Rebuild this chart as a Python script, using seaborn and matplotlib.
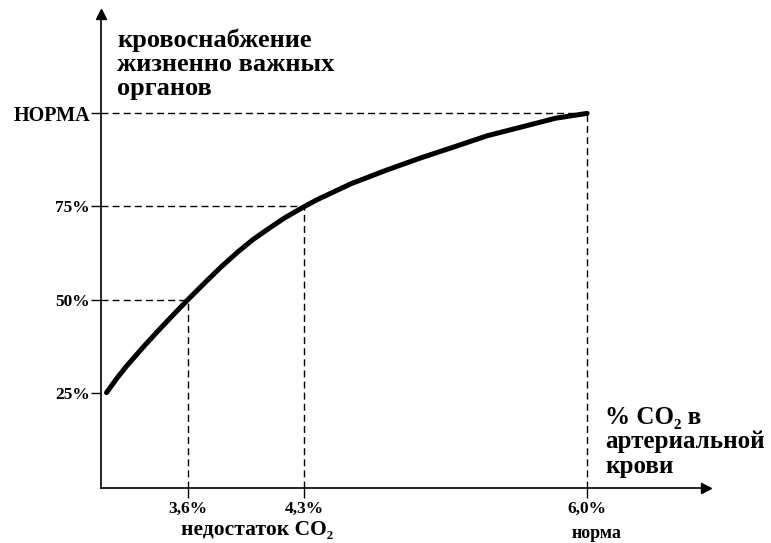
import matplotlib
matplotlib.use("Agg")
import matplotlib.pyplot as plt
import seaborn as sns
import pandas as pd

# curve: % CO2 in arterial blood -> blood supply (% of norm)
co2 = [3.11, 3.175, 3.23, 3.33, 3.42, 3.52, 3.60, 3.71, 3.80, 3.90, 3.99, 4.09,
       4.18, 4.30, 4.38, 4.58, 4.79, 4.99, 5.20, 5.40, 5.61, 5.81, 6.00]
supply = [25.0, 29.0, 32.1, 37.2, 41.6, 46.3, 50.0, 54.9, 58.8, 62.8, 66.1, 69.2,
          71.9, 75.0, 76.9, 81.1, 84.7, 87.9, 91.0, 94.0, 96.4, 98.7, 100.0]

# marked points (dashed guides)
mark_x = [3.6, 4.3, 6.0]
mark_y = [50, 75, 100]
x_labels = ["3,6%", "4,3%", "6,0%"]
y_ticks = [25, 50, 75, 100]
y_labels = ["25%", "50%", "75%", "НОРМА"]

df = pd.DataFrame({"co2": co2, "supply": supply})

sns.set_style("ticks")
plt.rcParams["font.family"] = ["Liberation Serif", "DejaVu Serif"]
plt.rcParams["font.weight"] = "bold"
plt.rcParams["text.color"] = "black"
plt.rcParams["xtick.color"] = "black"
plt.rcParams["ytick.color"] = "black"

fig = plt.figure(figsize=(7.71, 5.43), dpi=100)
ax = fig.add_axes([0.131, 0.1013, 0.785, 0.873])

xmin, xmax = 3.077, 6.716
ymin, ymax = -0.6, 126.7

# dashed guide lines
ax.hlines(mark_y, xmin, mark_x, colors="black", linewidth=1, linestyles=(0, (5, 3)))
ax.vlines(mark_x, ymin, mark_y, colors="black", linewidth=1, linestyles=(0, (5, 3)))

sns.lineplot(data=df, x="co2", y="supply", ax=ax, color="black", linewidth=3.6,
             solid_capstyle="round", solid_joinstyle="round")

ax.set_xlim(xmin, xmax)
ax.set_ylim(ymin, ymax)
ax.set_xlabel("")
ax.set_ylabel("")

ax.set_xticks(mark_x)
ax.set_xticklabels(x_labels, fontsize=12.5, fontweight="bold")
ax.set_yticks(y_ticks)
ax.set_yticklabels(y_labels, fontsize=12.5, fontweight="bold")
ax.get_yticklabels()[-1].set_fontsize(14.5)
ax.tick_params(axis="both", direction="out", length=7.5, width=1, colors="black")
ax.tick_params(axis="y", pad=0.5)
ax.tick_params(axis="x", pad=2)

for side in ["top", "right"]:
    ax.spines[side].set_visible(False)
for side in ["left", "bottom"]:
    ax.spines[side].set_color("black")
    ax.spines[side].set_linewidth(1.2)

# arrow heads
ax.plot(1, 0, ">k", markersize=7, transform=ax.transAxes, clip_on=False)
ax.plot(0, 1, "^k", markersize=7, transform=ax.transAxes, clip_on=False)

# axis captions
fig.text(0.152, 0.9466, "кровоснабжение\nжизненно важных\nорганов", fontsize=19,
         fontweight="bold", va="top", ha="left", linespacing=1.03, color="black")
fig.text(0.785, 0.252, "% CO₂ в\nартериальной\nкрови", fontsize=18,
         fontweight="bold", va="top", ha="left", linespacing=1.07, color="black")

tr = ax.get_xaxis_transform()
ax.text(4.015, -0.0987, "недостаток CO₂", transform=tr, fontsize=15.5,
        fontweight="bold", ha="center", va="baseline")
ax.text(6.054, -0.105, "норма", transform=tr, fontsize=13,
        fontweight="bold", ha="center", va="baseline")

fig.savefig("out.png", dpi=100)
